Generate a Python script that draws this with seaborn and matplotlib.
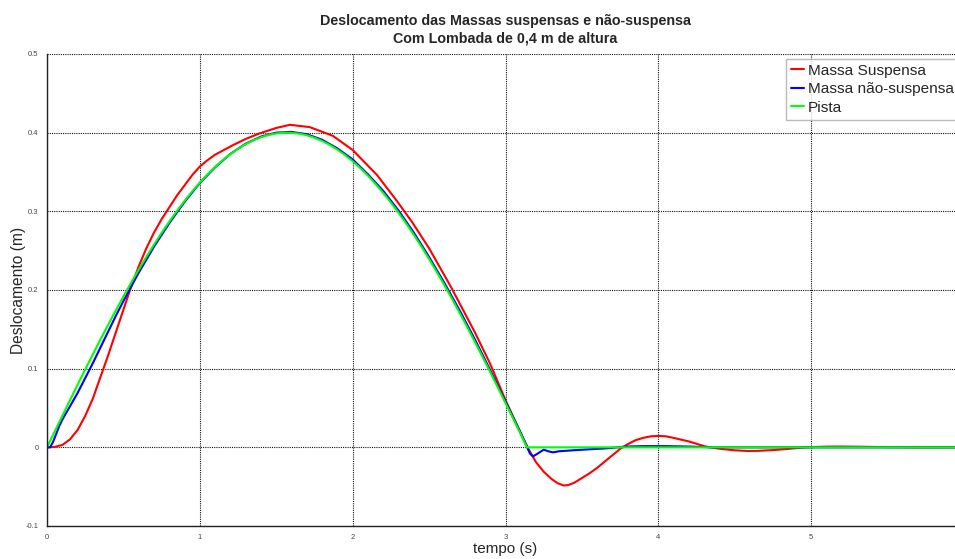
import matplotlib
matplotlib.use("Agg")
import matplotlib.pyplot as plt
import seaborn as sns
import pandas as pd

# ---- data ----
t_susp = [0, 0.05, 0.1, 0.15, 0.2, 0.25, 0.3, 0.36, 0.4, 0.45, 0.5, 0.55, 0.6, 0.65,
          0.7, 0.75, 0.8, 0.85, 0.9, 0.95, 1.0, 1.05, 1.1, 1.215, 1.3, 1.39, 1.5, 1.59,
          1.72, 1.87, 2.0, 2.16, 2.29, 2.39, 2.5, 2.64, 2.8, 2.9, 3.0, 3.1, 3.15, 3.2,
          3.25, 3.3, 3.34, 3.38, 3.41, 3.45, 3.5, 3.55, 3.6, 3.65, 3.7, 3.75, 3.8,
          3.85, 3.9, 3.95, 4.0, 4.05, 4.1, 4.2, 4.3, 4.34, 4.4, 4.5, 4.58, 4.65, 4.75,
          4.85, 4.93, 5.0, 5.1, 5.2, 5.35, 5.5, 5.7, 6.0]
y_susp = [0.0, 0.0005, 0.003, 0.010, 0.022, 0.040, 0.062, 0.095, 0.117, 0.146, 0.175,
          0.204, 0.230, 0.253, 0.273, 0.290, 0.305, 0.320, 0.333, 0.346, 0.357, 0.365,
          0.372, 0.384, 0.392, 0.399, 0.406, 0.410, 0.407, 0.396, 0.378, 0.346, 0.313,
          0.286, 0.253, 0.205, 0.146, 0.106, 0.060, 0.018, -0.002, -0.019, -0.031,
          -0.040, -0.0455, -0.0485, -0.048, -0.045, -0.039, -0.033, -0.026, -0.018,
          -0.010, -0.002, 0.004, 0.009, 0.012, 0.014, 0.0145, 0.014, 0.012, 0.0075,
          0.0015, 0.0, -0.0018, -0.0038, -0.0046, -0.0045, -0.0035, -0.002, -0.0005,
          0.0003, 0.0009, 0.001, 0.0007, 0.0003, 0.0, 0.0]

t_nsusp = [0, 0.02, 0.04, 0.06, 0.08, 0.1, 0.12, 0.15, 0.2, 0.25, 0.3, 0.35, 0.4, 0.45,
           0.5, 0.55, 0.6, 0.7, 0.8, 0.9, 1.0, 1.1, 1.2, 1.3, 1.4, 1.5, 1.6, 1.7, 1.8,
           1.9, 2.0, 2.1, 2.2, 2.3, 2.4, 2.5, 2.6, 2.7, 2.8, 2.9, 3.0, 3.05, 3.1, 3.14,
           3.16, 3.18, 3.21, 3.25, 3.28, 3.31, 3.35, 3.44, 3.55, 3.66, 3.79, 3.9, 4.05,
           4.2, 4.35, 6.0]
y_nsusp = [0.0, 0.0, 0.007, 0.017, 0.027, 0.035, 0.042, 0.052, 0.069, 0.088, 0.107,
           0.127, 0.147, 0.167, 0.186, 0.204, 0.222, 0.255, 0.285, 0.312, 0.336, 0.356,
           0.373, 0.386, 0.395, 0.400, 0.401, 0.398, 0.391, 0.380, 0.366, 0.347, 0.326,
           0.301, 0.273, 0.242, 0.209, 0.174, 0.137, 0.098, 0.058, 0.038, 0.018, 0.001,
           -0.008, -0.0115, -0.008, -0.003, -0.005, -0.0064, -0.005, -0.0038, -0.0025,
           -0.0013, 0.001, 0.0015, 0.0015, 0.001, 0.0, 0.0]

t_pista = [0.0, 0.05, 0.1, 0.15, 0.2, 0.25, 0.3, 0.35, 0.4, 0.45, 0.5, 0.55, 0.6, 0.65,
           0.7, 0.75, 0.8, 0.85, 0.9, 0.95, 1.0, 1.05, 1.1, 1.15, 1.2, 1.25, 1.3, 1.35,
           1.4, 1.45, 1.5, 1.55, 1.6, 1.65, 1.7, 1.75, 1.8, 1.85, 1.9, 1.95, 2.0, 2.05,
           2.1, 2.15, 2.2, 2.25, 2.3, 2.35, 2.4, 2.45, 2.5, 2.55, 2.6, 2.65, 2.7, 2.75,
           2.8, 2.85, 2.9, 2.95, 3.0, 3.05, 3.1, 3.14, 6.0]
y_pista = [0.0, 0.0200, 0.0399, 0.0598, 0.0795, 0.0990, 0.1182, 0.1372, 0.1558, 0.1740,
           0.1918, 0.2091, 0.2259, 0.2421, 0.2577, 0.2727, 0.2869, 0.3005, 0.3133,
           0.3254, 0.3366, 0.3470, 0.3565, 0.3651, 0.3728, 0.3796, 0.3854, 0.3903,
           0.3942, 0.3971, 0.3990, 0.3999, 0.3998, 0.3988, 0.3967, 0.3936, 0.3895,
           0.3845, 0.3785, 0.3716, 0.3637, 0.3550, 0.3453, 0.3347, 0.3234, 0.3112,
           0.2983, 0.2846, 0.2702, 0.2551, 0.2394, 0.2231, 0.2062, 0.1888, 0.1709,
           0.1527, 0.1340, 0.1150, 0.0957, 0.0761, 0.0564, 0.0366, 0.0166, 0.0, 0.0]

series_names = ["Massa Suspensa", "Massa não-suspensa", "Pista"]
series_colors = ["#ff0000", "#0000ff", "#00ff00"]
x_ticks = [0, 1, 2, 3, 4, 5]
y_ticks = [-0.1, 0, 0.1, 0.2, 0.3, 0.4, 0.5]
y_tick_labels = ["-0.1", "0", "0.1", "0.2", "0.3", "0.4", "0.5"]

title = "Deslocamento das Massas suspensas e não-suspensa\nCom Lombada de 0,4 m de altura"
x_label = "tempo (s)"
y_label = "Deslocamento (m)"

# ---- build long-form table ----
frames = []
for name, tt, yy in zip(series_names, [t_susp, t_nsusp, t_pista], [y_susp, y_nsusp, y_pista]):
    frames.append(pd.DataFrame({"t": tt, "y": yy, "serie": name}))
df = pd.concat(frames, ignore_index=True)

sns.set_style("white")
plt.rcParams["font.family"] = ["Liberation Sans", "DejaVu Sans"]

W, H = 955, 559
fig = plt.figure(figsize=(W / 100, H / 100), dpi=100)
ax = fig.add_axes([47 / W, 1 - 526 / H, 917 / W, 472 / H])

sns.lineplot(data=df, x="t", y="y", hue="serie", hue_order=series_names,
             palette=dict(zip(series_names, series_colors)), estimator=None,
             sort=False, linewidth=1.5, legend=False, ax=ax)

ax.set_xlim(0, 6)
ax.set_ylim(-0.1, 0.5)
ax.set_xticks(x_ticks)
ax.set_xticklabels([str(v) for v in x_ticks])
ax.set_yticks(y_ticks)
ax.set_yticklabels(y_tick_labels)
ax.tick_params(axis="both", which="major", direction="in", length=4, width=0.8,
               labelsize=5.5, labelcolor="#444444", color="#222222", pad=6)

ax.grid(True, color="#111111", linestyle=(0, (1, 1)), linewidth=0.8)
for s in ["top", "right"]:
    ax.spines[s].set_visible(False)
for s in ["left", "bottom"]:
    ax.spines[s].set_color("#222222")
    ax.spines[s].set_linewidth(1.0)

ax.set_title(title, fontsize=10.3, fontweight="bold", pad=8, linespacing=1.35)
ax.set_xlabel(x_label, fontsize=11)
ax.set_ylabel(y_label, fontsize=11.2)
ax.xaxis.set_label_coords(458 / 917, -0.033)
ax.yaxis.set_label_coords(-0.023, 0.5)

handles = ax.get_lines()[:3]
leg = ax.legend(handles, series_names, loc="upper left",
                bbox_to_anchor=(786 / W, 1 - 59 / H), bbox_transform=fig.transFigure,
                fontsize=11.1, frameon=True, fancybox=False, borderaxespad=0,
                borderpad=0.3, labelspacing=0.3, handlelength=0.85,
                handletextpad=0.25)
leg.get_frame().set_edgecolor("#aaaaaa")
leg.get_frame().set_linewidth(1.0)

fig.savefig("out.png", dpi=100)
